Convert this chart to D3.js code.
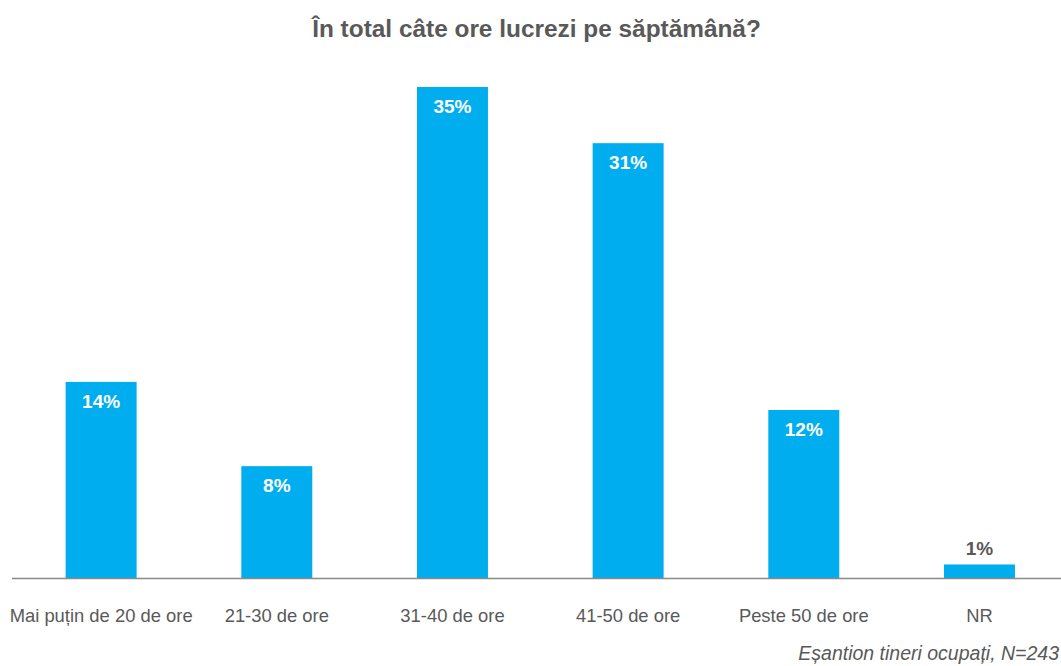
<!DOCTYPE html>
<html>
<head>
<meta charset="utf-8">
<script src="https://cdn.jsdelivr.net/npm/d3@7"></script>
<style>
  html, body { margin: 0; padding: 0; background: #fff; }
  svg { display: block; font-family: "Liberation Sans", Arial, sans-serif; }
</style>
</head>
<body>
<svg id="chart" width="1061" height="666"></svg>
<script>
const title = "În total câte ore lucrezi pe săptămână?";
const categories = ["Mai puțin de 20 de ore", "21-30 de ore", "31-40 de ore", "41-50 de ore", "Peste 50 de ore", "NR"];
const values = [14, 8, 35, 31, 12, 1];
const footnote = "Eșantion tineri ocupați, N=243";

const svg = d3.select("#chart");
const baseY = 578.5;
const x = d3.scaleBand().domain(categories).range([13.3, 1067.3]).paddingInner(0.596).paddingOuter(0.298);
const y = d3.scaleLinear().domain([0, 35]).range([baseY, 87]);

svg.append("text").attr("x", 536.5).attr("y", 37).attr("text-anchor", "middle")
  .attr("font-size", 24.4).attr("font-weight", "bold").attr("fill", "#595959").text(title);

svg.selectAll("rect.bar").data(values).join("rect").attr("class", "bar")
  .attr("x", (d, i) => x(categories[i]))
  .attr("width", x.bandwidth())
  .attr("y", d => y(d))
  .attr("height", d => baseY - y(d))
  .attr("fill", "#00AEEF");

svg.append("line").attr("x1", 12).attr("x2", 1061).attr("y1", baseY).attr("y2", baseY)
  .attr("stroke", "#898989").attr("stroke-width", 1.5);

svg.selectAll("text.val").data(values).join("text").attr("class", "val")
  .attr("x", (d, i) => x(categories[i]) + x.bandwidth() / 2)
  .attr("y", d => (baseY - y(d) > 40 ? y(d) + 26 : y(d) - 9))
  .attr("text-anchor", "middle").attr("font-size", 19).attr("font-weight", "bold")
  .attr("fill", d => (baseY - y(d) > 40 ? "#ffffff" : "#595959"))
  .text(d => d + "%");

const axis = d3.axisBottom(x).tickSize(0).tickPadding(0);
const g = svg.append("g").attr("transform", `translate(0,${baseY})`).call(axis);
g.select(".domain").remove();
g.selectAll("text").attr("font-size", 18.4).attr("fill", "#595959")
  .attr("font-family", "Liberation Sans, Arial, sans-serif")
  .attr("dy", null).attr("y", 43);

svg.append("text").attr("x", 1059).attr("y", 660).attr("text-anchor", "end")
  .attr("font-size", 19.5).attr("font-style", "italic").attr("fill", "#595959").text(footnote);
</script>
</body>
</html>
